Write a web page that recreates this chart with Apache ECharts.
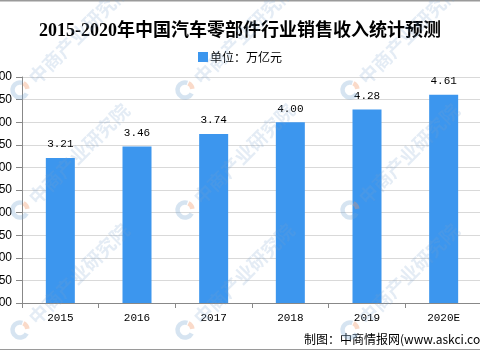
<!DOCTYPE html>
<html>
<head>
<meta charset="utf-8">
<script src="https://cdn.jsdelivr.net/npm/echarts@6/dist/echarts.min.js"></script>
<style>
html,body{margin:0;padding:0;background:#fff;}
#main{width:480px;height:354px;}
</style>
</head>
<body>
<div id="main"></div>
<script>
var titleText = '2015-2020年中国汽车零部件行业销售收入统计预测';
var seriesName = '单位：万亿元';
var categories = ['2015', '2016', '2017', '2018', '2019', '2020E'];
var values = [3.21, 3.46, 3.74, 4.00, 4.28, 4.61];
var yMin = 0, yMax = 5, yInterval = 0.5;
var sourceText = '制图：中商情报网(www.askci.com)';
var watermarkText = '中商产业研究院';
var watermarkX = [20, 185, 350];
var watermarkY = [90, 210, 330];

var chart = echarts.init(document.getElementById('main'), null, {renderer: 'canvas'});

var graphics = [
  {type: 'line', shape: {x1: 0, y1: 0.75, x2: 480, y2: 0.75}, style: {stroke: '#9a9a9a', lineWidth: 1.5}, z: 10},
  {type: 'line', shape: {x1: 0, y1: 349.5, x2: 480, y2: 349.5}, style: {stroke: '#9a9a9a', lineWidth: 1}, z: 10},
  {type: 'text', left: 304, top: 333, style: {text: sourceText, font: '12px "Noto Sans CJK SC", "Liberation Sans", sans-serif', fill: '#000'}, z: 10}
];
watermarkX.forEach(function (wx) {
  watermarkY.forEach(function (wy) {
    graphics.push({type: 'arc', shape: {cx: wx, cy: wy, r: 7.5, startAngle: Math.PI * 0.15, endAngle: Math.PI * 1.6}, style: {stroke: 'rgba(120,165,210,0.3)', lineWidth: 4.5, fill: null}, z: 50, silent: true});
    graphics.push({type: 'arc', shape: {cx: wx, cy: wy, r: 7.5, startAngle: Math.PI * 1.65, endAngle: Math.PI * 1.95}, style: {stroke: 'rgba(240,150,100,0.35)', lineWidth: 4.5, fill: null}, z: 50, silent: true});
    graphics.push({type: 'text', x: wx + 12, y: wy - 9, rotation: Math.PI / 4, style: {text: watermarkText, font: 'bold 19px "Noto Sans CJK SC", sans-serif', fill: 'rgba(120,160,205,0.2)', textAlign: 'left', textVerticalAlign: 'middle'}, z: 50, silent: true});
  });
});

var option = {
  backgroundColor: '#ffffff',
  animation: false,
  title: {
    text: titleText,
    left: 'center',
    top: 17,
    textStyle: {fontFamily: '"Liberation Serif", "Noto Sans CJK SC", serif', fontWeight: 'bold', fontSize: 18, color: '#000'}
  },
  legend: {
    data: [seriesName],
    top: 46,
    left: 'center',
    itemWidth: 10,
    itemHeight: 10,
    itemGap: 4,
    icon: 'rect',
    textStyle: {fontFamily: '"Noto Sans CJK SC", sans-serif', fontSize: 12, color: '#000', padding: [0, 0, 0, -3]}
  },
  grid: {left: 22, top: 77, width: 460, bottom: 51, containLabel: false, outerBoundsMode: 'none'},
  xAxis: {
    type: 'category',
    data: categories,
    axisLine: {lineStyle: {color: '#888', width: 1}},
    axisTick: {show: true, length: 5, lineStyle: {color: '#888'}},
    axisLabel: {margin: 10, fontFamily: '"Liberation Mono", monospace', fontSize: 11, color: '#000'}
  },
  yAxis: {
    type: 'value',
    min: yMin,
    max: yMax,
    interval: yInterval,
    axisLine: {show: true, lineStyle: {color: '#888', width: 1}},
    axisTick: {show: true, length: 6, lineStyle: {color: '#888'}},
    splitLine: {lineStyle: {color: '#d9d9d9', width: 1}},
    axisLabel: {margin: 10, fontFamily: '"Liberation Sans", sans-serif', fontSize: 12, color: '#000', formatter: function (v) { return v.toFixed(2); }}
  },
  series: [{
    name: seriesName,
    type: 'bar',
    data: values,
    barWidth: 29,
    itemStyle: {color: '#3c96ee'},
    label: {
      show: true,
      position: 'top',
      distance: 8,
      fontFamily: '"Liberation Mono", monospace',
      fontSize: 11,
      color: '#000',
      formatter: function (p) { return p.value.toFixed(2); }
    }
  }],
  graphic: graphics
};
chart.setOption(option);
</script>
</body>
</html>
